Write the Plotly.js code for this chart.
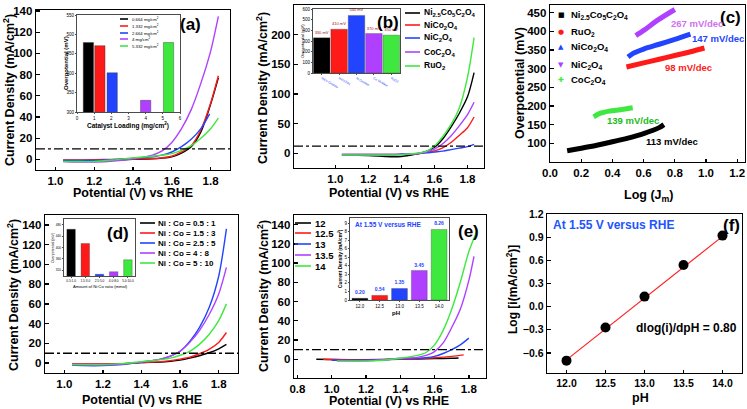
<!DOCTYPE html>
<html><head><meta charset="utf-8">
<script src="https://cdn.plot.ly/plotly-3.0.1.min.js"></script>
<style>html,body{margin:0;padding:0;background:#fff}#plot{width:747px;height:409px}</style>
</head><body><div id="plot"></div>
<script>
// ---------------- DATA ----------------
// (a) catalyst loading LSV
const aV = [1.04,1.1,1.2,1.3,1.4,1.5,1.55,1.6,1.65,1.7,1.75,1.8,1.84];
const aJ_0664 = [-1,-1,-0.8,-0.5,0,0.5,1.2,2.5,6,12,26,52,77];
const aJ_1332 = [-0.5,-0.5,-0.3,0,0.3,0.8,1.5,3,7,13,28,53,79];
const aV_2664 = [1.04,1.1,1.2,1.3,1.4,1.5,1.55,1.6,1.65,1.7,1.75,1.795];
const aJ_2664 = [-1,-1,-1,0,1,2.5,4,7,12,19,29,43];
const aJ_4 = [-2,-2.5,-2.5,-1.5,0.5,4,8,16,29,47,72,102,135];
const aJ_5332 = [-2,-2,-2,-0.5,1.5,3,4,5.5,8.5,13,20,29,39];
const aNames = ['0.664 mg/cm<sup>2</sup>','1.332 mg/cm<sup>2</sup>','2.664 mg/cm<sup>2</sup>','4 mg/cm<sup>2</sup>','5.332 mg/cm<sup>2</sup>'];
// (a) inset
const aiLoading = [0.664,1.332,2.05,4,5.332];
const aiOverpot = [479,471,401,330,479];
// (b) comparison LSV
const bV = [1.04,1.1,1.2,1.3,1.35,1.4,1.45,1.5,1.55,1.6,1.65,1.7,1.75,1.8,1.84];
const bJ_NiCoOx = [-3,-3.5,-4,-5.5,-6,-5.5,-3.5,-1,3,10,24,44,67,95,136];
const bJ_NiCo2O4 = [-2,-2,-2,-2,-2,-2,-1.5,-1,1,4,9,18,30,43,61];
const bJ_NiC2O4 = [-2,-2,-2,-2,-2,-1.5,-1,-0.5,0.5,2,3.5,6,8.5,11,15];
const bJ_CoC2O4 = [-3,-3,-3,-3,-3,-2.5,-1.5,-0.5,2,7,16,29,46,65,86];
const bJ_RuO2 = [-3,-3,-3,-3,-3,-2.5,-1.5,0,3,12,28,48,76,128,195];
const bNames = ['Ni<sub>2.5</sub>Co<sub>5</sub>C<sub>2</sub>O<sub>4</sub>','NiCo<sub>2</sub>O<sub>4</sub>','NiC<sub>2</sub>O<sub>4</sub>','CoC<sub>2</sub>O<sub>4</sub>','RuO<sub>2</sub>'];
// (b) inset
const biCats = ['NiCo Oxalate','NiCo2O4','Ni Oxalate','Co Oxalate','RuO2'];
const biOverpot = [330,410,540,370,355];
const biLabels = ['330 mV','410 mV','540 mV','370 mV','350 mV'];
// (c) Tafel
const cX_NiCo = [0.11,0.2,0.3,0.4,0.5,0.6,0.7,0.73];
const cY_NiCo = [80,87,95,104,114,126,142,150];
const cX_Ru = [0.49,0.6,0.7,0.8,0.9,0.99];
const cY_Ru = [304,315,325,335,345,355];
const cX_NiCo2O4 = [0.5,0.53,0.6,0.7,0.8,0.9];
const cY_NiCo2O4 = [331,340,352,365,378,392];
const cX_NiC2O4 = [0.55,0.6,0.7,0.8];
const cY_NiC2O4 = [388,402,432,458];
const cX_CoC2O4 = [0.28,0.32,0.38,0.45,0.53];
const cY_CoC2O4 = [171,180,186,190,195];
const cNames = ['Ni<sub>2.5</sub>Co<sub>5</sub>C<sub>2</sub>O<sub>4</sub>','RuO<sub>2</sub>','NiCo<sub>2</sub>O<sub>4</sub>','NiC<sub>2</sub>O<sub>4</sub>','CoC<sub>2</sub>O<sub>4</sub>'];
const cSlopes = ['113 mV/dec','98 mV/dec','147 mV/dec','267 mV/dec','139 mV/dec'];
// (d) Ni:Co ratio LSV
const dV = [1.04,1.1,1.2,1.3,1.4,1.5,1.55,1.6,1.65,1.7,1.75,1.8,1.84];
const dJ_05 = [-1,-1,-1,-0.5,0.5,1,1.8,3,5,7.5,10.5,14.5,19];
const dJ_15 = [-1,-1,-1,-0.5,0.5,1.5,2.5,4,6,9.5,14,21,31];
const dJ_25 = [-2,-2.5,-2.5,-1.5,1,4,7,12,22,36,56,88,136];
const dJ_4 = [-1.5,-2,-2,-1,1,4,7,12,21,33,49,70,97];
const dJ_5 = [-1.5,-1.5,-1.5,-0.5,1.5,3.5,5,8,12,19,29,43,60];
const dNames = ['Ni : Co = 0.5 : 1','Ni : Co = 1.5 : 3','Ni : Co = 2.5 : 5','Ni : Co = 4 : 8','Ni : Co = 5 : 10'];
// (d) inset
const diCats = ['0.5:1.0','1.5:3.0','2.5:5.0','4.0:8.0','5.0:10.0'];
const diOverpot = [464,414,306,315,357];
// (e) pH LSV
const eV_12 = [0.91,1.0,1.2,1.4,1.5,1.6,1.7,1.74];
const eJ_12 = [0,-0.3,-0.5,0,0.3,0.6,1,1.3];
const eV_125 = [0.95,1.0,1.2,1.4,1.5,1.6,1.7,1.77];
const eJ_125 = [0,-0.3,-0.8,0,0.5,1.5,3,4.5];
const eV_13 = [1.0,1.1,1.2,1.3,1.4,1.5,1.55,1.6,1.65,1.7,1.75,1.8];
const eJ_13 = [-1,-1,-1,-0.5,0.5,1,1.5,3,6,10,15,22];
const eV_135 = [1.03,1.1,1.2,1.3,1.4,1.5,1.55,1.6,1.65,1.7,1.75,1.8,1.83];
const eJ_135 = [-1.5,-1.5,-1.5,-0.5,1,2,4,8,17,33,52,82,107];
const eV_14 = [1.03,1.1,1.2,1.3,1.4,1.5,1.55,1.6,1.65,1.7,1.75,1.8,1.85];
const eJ_14 = [-2,-2,-2,-1,1,4,7,15,30,52,80,112,135];
const eNames = ['12','12.5','13','13.5','14'];
// (e) inset
const eiCats = ['12.0','12.5','13.0','13.5','14.0'];
const eiJ = [0.20,0.54,1.35,3.45,8.26];
// (f)
const fPH = [12,12.5,13,13.5,14];
const fLogI = [-0.70,-0.27,0.13,0.54,0.92];
const fFitPH = [12,14];
const fFitLog = [-0.69,0.91];
const J_REF_A = 10, J_REF_B = 12, J_REF_D = 10, J_REF_E = 10;

// ---------------- STYLE ----------------
const W=747,H=409;
const FN='Liberation Sans, Arial, sans-serif';
const FR='Liberation Sans, Arial, sans-serif';
const COLS=['#000000','#ff1a1a','#2244ff','#b040ff','#3ee83e'];
function dx(a,b){return [a/W,b/W];}
function dy(a,b){return [1-b/H,1-a/H];}
function ax(domain,range,anchor,o){
  return Object.assign({domain,range,anchor,showline:true,mirror:true,linecolor:'#000',linewidth:1.3,
    ticks:'inside',ticklen:3.5,tickwidth:1.3,tickcolor:'#000',showgrid:false,zeroline:false,
    tickfont:{family:FR,size:11.5,color:'#000',weight:'bold'},fixedrange:true},o||{});
}
function iax(domain,range,anchor,o){
  return ax(domain,range,anchor,Object.assign({linewidth:0.7,ticks:'outside',ticklen:1.5,tickwidth:0.7,
    tickfont:{family:FR,size:4.5,color:'#000'}},o||{}));
}
function ln(x,y,c,xa,ya,w){return {type:'scatter',mode:'lines',x,y,xaxis:xa,yaxis:ya,line:{color:c,width:w||1.4,shape:'spline',smoothing:0.8},showlegend:false,hoverinfo:'skip'};}
const [K,R,B,P,G]=COLS;

const traces=[
  ln(aV,aJ_0664,K,'x','y'), ln(aV,aJ_1332,R,'x','y'), ln(aV_2664,aJ_2664,B,'x','y'), ln(aV,aJ_4,P,'x','y'), ln(aV,aJ_5332,G,'x','y'),
  {type:'bar',x:aiLoading,y:aiOverpot,width:0.6,xaxis:'x2',yaxis:'y2',marker:{color:COLS,line:{color:'#333',width:0.4}},showlegend:false},
  ln(bV,bJ_NiCoOx,K,'x3','y3'), ln(bV,bJ_NiCo2O4,R,'x3','y3'), ln(bV,bJ_NiC2O4,B,'x3','y3'), ln(bV,bJ_CoC2O4,P,'x3','y3'), ln(bV,bJ_RuO2,G,'x3','y3'),
  {type:'bar',x:biCats,y:biOverpot,width:0.95,xaxis:'x4',yaxis:'y4',marker:{color:COLS,line:{color:'#333',width:0.3}},
   text:biLabels,textposition:'outside',textfont:{family:FR,size:4,color:'#a01010'},cliponaxis:false,constraintext:'none',showlegend:false},
  ln(cX_NiCo,cY_NiCo,K,'x5','y5',5), ln(cX_Ru,cY_Ru,R,'x5','y5',5), ln(cX_NiCo2O4,cY_NiCo2O4,B,'x5','y5',5), ln(cX_NiC2O4,cY_NiC2O4,P,'x5','y5',5), ln(cX_CoC2O4,cY_CoC2O4,G,'x5','y5',5),
  ln(dV,dJ_05,K,'x6','y6'), ln(dV,dJ_15,R,'x6','y6'), ln(dV,dJ_25,B,'x6','y6'), ln(dV,dJ_4,P,'x6','y6'), ln(dV,dJ_5,G,'x6','y6'),
  {type:'bar',x:diCats,y:diOverpot,width:0.6,xaxis:'x7',yaxis:'y7',marker:{color:COLS,line:{color:'#333',width:0.3}},showlegend:false},
  ln(eV_12,eJ_12,K,'x8','y8'), ln(eV_125,eJ_125,R,'x8','y8'), ln(eV_13,eJ_13,B,'x8','y8'), ln(eV_135,eJ_135,P,'x8','y8'), ln(eV_14,eJ_14,G,'x8','y8'),
  {type:'bar',x:eiCats,y:eiJ,width:0.8,xaxis:'x9',yaxis:'y9',marker:{color:COLS,line:{color:'#333',width:0.3}},
   text:eiJ.map(v=>v.toFixed(2)),textposition:'outside',textfont:{family:FR,size:5,color:'#2244ff',weight:'bold'},cliponaxis:false,constraintext:'none',showlegend:false},
  {type:'scatter',mode:'lines',x:fFitPH,y:fFitLog,xaxis:'x10',yaxis:'y10',line:{color:'#ff2020',width:1.2},showlegend:false},
  {type:'scatter',mode:'markers',x:fPH,y:fLogI,xaxis:'x10',yaxis:'y10',marker:{color:'#000',size:10},showlegend:false}
];

const layout={width:W,height:H,margin:{l:0,r:0,t:0,b:0},paper_bgcolor:'#fff',plot_bgcolor:'#fff',showlegend:false,
  xaxis: ax(dx(36,230),[0.9,1.9],'y',{tick0:1.0,dtick:0.2,tickformat:'.1f'}),
  yaxis: ax(dy(10,170),[-10,141],'x',{tick0:0,dtick:20}),
  xaxis2: iax(dx(77,180),[0,6],'y2',{dtick:1}),
  yaxis2: iax(dy(15,112),[300,550],'x2',{dtick:50}),
  xaxis3: ax(dx(294,484),[0.75,1.9],'y3',{tickvals:[1.0,1.2,1.4,1.6,1.8],tickformat:'.1f'}),
  yaxis3: ax(dy(5,168),[-25,250],'x3',{tick0:0,dtick:50}),
  xaxis4: iax(dx(313,400),[-0.5,4.5],'y4',{type:'category',tickfont:{family:FR,size:3.2,color:'#2244ff'}}),
  yaxis4: iax(dy(9,73),[0,600],'x4',{dtick:100}),
  xaxis5: ax(dx(550,745),[0,1.25],'y5',{dtick:0.2,tickformat:'.1f'}),
  yaxis5: ax(dy(5,162),[50,470],'x5',{tickvals:[100,150,200,250,300,350,400,450]}),
  xaxis6: ax(dx(45,238),[0.9,1.9],'y6',{tick0:1.0,dtick:0.2,tickformat:'.1f'}),
  yaxis6: ax(dy(215,373),[-10,150],'x6',{tick0:0,dtick:20}),
  xaxis7: iax(dx(64,135),[-0.5,4.5],'y7',{type:'category',tickfont:{family:FR,size:3.2,color:'#000'}}),
  yaxis7: iax(dy(219,276),[300,500],'x7',{dtick:40,tickfont:{family:FR,size:3.2,color:'#000'}}),
  xaxis8: ax(dx(294,486),[0.78,1.9],'y8',{tick0:0.8,dtick:0.2,tickformat:'.1f'}),
  yaxis8: ax(dy(215,378),[-19.5,150],'x8',{tick0:0,dtick:20}),
  xaxis9: iax(dx(350,449),[-0.5,4.5],'y9',{type:'category'}),
  yaxis9: iax(dy(218,300),[0,9.6],'x9',{dtick:1}),
  xaxis10: ax(dx(547,742),[11.75,14.25],'y10',{dtick:0.5,tickformat:'.1f',tickfont:{family:FR,size:10.5,color:'#000',weight:'bold'}}),
  yaxis10: ax(dy(214,373),[-0.86,1.2],'x10',{tick0:0,dtick:0.3,tickformat:'.1f',tickfont:{family:FR,size:10.5,color:'#000',weight:'bold'}}),
  shapes:[], annotations:[]
};
// reference dash-dot lines at 10 mA/cm2
[['x','y',J_REF_A],['x3','y3',J_REF_B],['x6','y6',J_REF_D],['x8','y8',J_REF_E]].forEach(([xa,ya,v])=>{
  layout.shapes.push({type:'line',xref:xa+' domain',yref:ya,x0:0,x1:1,y0:v,y1:v,line:{color:'#000',width:1.3,dash:'dashdot'}});
});
function A(text,px,py,size,o){
  layout.annotations.push(Object.assign({xref:'paper',yref:'paper',x:px/W,y:1-py/H,text,showarrow:false,
    font:{family:FN,size,color:'#000',weight:'bold'},xanchor:'center',yanchor:'middle'},o||{}));
}
function legendLines(names,x0,x1,tx,ys,size,weight){
  names.forEach((n,i)=>{
    layout.shapes.push({type:'line',xref:'paper',yref:'paper',x0:x0/W,x1:x1/W,y0:1-ys[i]/H,y1:1-ys[i]/H,line:{color:COLS[i],width:1.6}});
    A(n,tx,ys[i],size,{xanchor:'left',font:{family:FN,size,color:'#000',weight:weight||'bold'}});
  });
}
// axis titles
const CD='Current Density (mA/cm<sup>2</sup>)', PV='Potential (V) vs RHE';
A(CD,9,90,12.5,{textangle:-90});  A(PV,133,193,12.5);
A(CD,262,88,12.5,{textangle:-90}); A(PV,389,193,12.5);
A('Overpotential (mV)',520,83,12.5,{textangle:-90}); A('Log (J<sub>m</sub>)',648,196,12.5);
A(CD,13,295,12.5,{textangle:-90}); A(PV,142,400,12.5);
A(CD,263,296,12.5,{textangle:-90}); A(PV,389,401,12.5);
A('Log [i(mA/cm<sup>2</sup>)]',512,290,12,{textangle:-90}); A('pH',640,398,12.5);
// panel letters
['(a)',190,24,'(b)',388,22,'(c)',730,17,'(d)',118,233,'(e)',468,232,'(f)',731,225].reduce((acc,v,i,arr)=>{
  if(i%3===0) A(arr[i],arr[i+1],arr[i+2],17); return acc;},0);
// inset titles
A('Overpotential (mV)',66,63,6,{textangle:-90});
A('Catalyst Loading (mg/cm<sup>2</sup>)',128,125,6.5);
A('Overpotential (mV)',303,41,4,{textangle:-90,font:{family:FR,size:4,color:'#000'}});
A('Overpotential (mV)',53,248,3.6,{textangle:-90,font:{family:FR,size:3.6,color:'#000'}});
A('Amount of Ni:Co ratio (mmol)',100,286,4.2,{font:{family:FR,size:4.2,color:'#000'}});
A('Current Density (mA/cm<sup>2</sup>)',340,259,4.8,{textangle:-90,font:{family:FR,size:4.8,color:'#000',weight:'bold'}});
A('pH',396,313,6,{font:{family:FR,size:6,color:'#000',weight:'bold'}});
A('At 1.55 V versus RHE',353,224,6.5,{xanchor:'left',font:{family:FR,size:6.5,color:'#2244ff',weight:'bold'}});
// panel f texts
A('At 1.55 V versus RHE',551,225,12,{xanchor:'left',font:{family:FN,size:12,color:'#2255ff',weight:'bold'}});
A('dlog(i)/dpH = 0.80',686,328,12,{font:{family:FN,size:12,color:'#000',weight:'bold'}});
// legends
legendLines(aNames,120,128,130,[19,26,33,39,46],4.3,'normal');
legendLines(bNames,405,420,422,[13,25,38,52,66],8.5);
legendLines(dNames,140,155,156,[223,233,243,253,263],8);
legendLines(eNames,295,311,313,[223,233,244,255,266],9.5);
// (c) legend with marker glyphs
const cGlyph=['■','●','▲','▼','✚'], cLegY=[15,32,47,65,80];
cNames.forEach((n,i)=>{
  A(cGlyph[i],561,cLegY[i],7,{font:{family:'DejaVu Sans',size:7,color:COLS[i]}});
  A(n,569,cLegY[i],9.5,{xanchor:'left'});
});
// (c) slope labels
const cSlopePos=[[0.78,106],[0.89,303],[1.075,381],[0.94,421],[0.53,161]];
const cSlopeCol=['#000','#ff2020','#2244ff','#d070f0','#22bb22'];
cSlopes.forEach((s,i)=>{
  layout.annotations.push({xref:'x5',yref:'y5',x:cSlopePos[i][0],y:cSlopePos[i][1],text:s,showarrow:false,
    font:{family:FN,size:9.5,color:cSlopeCol[i],weight:'bold'}});
});
Plotly.newPlot('plot',traces,layout,{staticPlot:true});
</script></body></html>
